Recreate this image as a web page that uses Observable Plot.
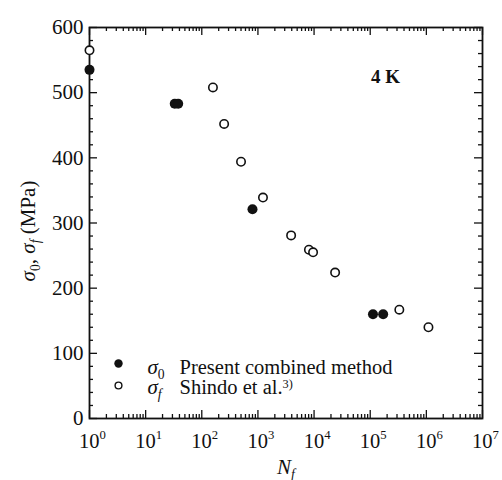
<!DOCTYPE html>
<html><head><meta charset="utf-8">
<script src="https://cdn.jsdelivr.net/npm/d3@7"></script>
<script src="https://cdn.jsdelivr.net/npm/@observablehq/plot@0.6"></script>
<style>
body{margin:0;background:#fff;}
#chart{position:relative;width:502px;height:480px;}
</style>
</head><body><div id="chart"></div>
<script>
// Data
const presentN = [1, 33, 38, 800, 112000, 170000];
const presentS = [535, 483, 483, 321, 160, 160];
const shindoN = [1, 158, 250, 500, 1230, 3900, 8100, 9600, 23700, 330000, 1090000];
const shindoS = [565, 508, 452, 394, 339, 281, 259, 255, 224, 167, 140];

const yTicks = [0, 100, 200, 300, 400, 500, 600];
const xExponents = [0, 1, 2, 3, 4, 5, 6, 7];

const present = presentN.map((n, i) => ({n, s: presentS[i]}));
const shindo = shindoN.map((n, i) => ({n, s: shindoS[i]}));
const xMajor = xExponents.map(e => Math.pow(10, e));
const xMinor = xExponents.slice(0, -1).flatMap(e => d3.range(2, 10).map(m => m * Math.pow(10, e)));
const yMinor = d3.range(0, 601, 20).filter(v => v % 100 !== 0);

const W = 502, H = 480, ML = 89, MR = 20, MT = 27, MB = 62;
const PW = W - ML - MR, PH = H - MT - MB;
const font = "'Liberation Serif', 'Times New Roman', serif";
const tk = {stroke: "#111", strokeWidth: 1.3};

const plot = Plot.plot({
  width: W, height: H,
  marginLeft: ML, marginRight: MR, marginTop: MT, marginBottom: MB,
  style: {fontFamily: font, fontSize: "20px", color: "#111", background: "#fff", overflow: "visible"},
  x: {type: "log", domain: [1, 1e7], axis: null},
  y: {domain: [0, 600], axis: null},
  marks: [
    // inward ticks on all four sides
    Plot.tickX(xMajor, {x: d => d, insetTop: PH - 8, ...tk}),
    Plot.tickX(xMinor, {x: d => d, insetTop: PH - 4, ...tk}),
    Plot.tickX(xMajor, {x: d => d, insetBottom: PH - 8, ...tk}),
    Plot.tickX(xMinor, {x: d => d, insetBottom: PH - 4, ...tk}),
    Plot.tickY(yTicks, {y: d => d, insetRight: PW - 8, ...tk}),
    Plot.tickY(yMinor, {y: d => d, insetRight: PW - 4, ...tk}),
    Plot.tickY(yTicks, {y: d => d, insetLeft: PW - 8, ...tk}),
    Plot.tickY(yMinor, {y: d => d, insetLeft: PW - 4, ...tk}),
    // y tick labels
    Plot.text(yTicks, {y: d => d, frameAnchor: "left", dx: -6, textAnchor: "end", lineAnchor: "middle", fontSize: 21, text: d => String(d)}),
    // x tick labels 10^n
    Plot.text(xExponents, {x: e => Math.pow(10, e), frameAnchor: "bottom", dy: 29, dx: 3, textAnchor: "middle", lineAnchor: "bottom", fontSize: 20.5, text: e => `10^{${e}}`}),
    Plot.frame({stroke: "#111", strokeWidth: 1.8}),
    // data
    Plot.dot(shindo, {x: "n", y: "s", r: 4.2, stroke: "#111", strokeWidth: 1.6, fill: "#fff"}),
    Plot.dot(present, {x: "n", y: "s", r: 5, fill: "#111", stroke: "none"}),
    // annotation
    Plot.text(["4 K"], {frameAnchor: "top-right", dx: -97, dy: 55, textAnchor: "middle", lineAnchor: "bottom", fontSize: 19, fontWeight: 600, text: d => d}),
    // legend
    Plot.dot([0], {frameAnchor: "bottom-left", dx: 29, dy: -55, r: 4.2, fill: "#111"}),
    Plot.dot([0], {frameAnchor: "bottom-left", dx: 29, dy: -33, r: 3.4, fill: "#fff", stroke: "#111", strokeWidth: 1.4}),
    Plot.text(["*σ*_{0}"], {frameAnchor: "bottom-left", dx: 58, dy: -45, textAnchor: "start", lineAnchor: "bottom", fontSize: 21, text: d => d}),
    Plot.text(["*σ*_[f]"], {frameAnchor: "bottom-left", dx: 58, dy: -25, textAnchor: "start", lineAnchor: "bottom", fontSize: 21, text: d => d}),
    Plot.text(["Present combined method"], {frameAnchor: "bottom-left", dx: 90, dy: -45, textAnchor: "start", lineAnchor: "bottom", fontSize: 20.5, text: d => d}),
    Plot.text(["Shindo et al.^[3)]"], {frameAnchor: "bottom-left", dx: 90, dy: -25, textAnchor: "start", lineAnchor: "bottom", fontSize: 20.5, text: d => d}),
    // axis titles
    Plot.text(["*N*_[f]"], {frameAnchor: "bottom", dy: 55, textAnchor: "middle", lineAnchor: "bottom", fontSize: 21, text: d => d}),
    Plot.text(["*σ*_{0}, *σ*_[f] (MPa)"], {frameAnchor: "left", dx: -55, dy: 8, rotate: -90, textAnchor: "middle", lineAnchor: "bottom", fontSize: 21, text: d => d})
  ]
});

// simple markup: *italic*, ^{sup}, ^[low sup], _{sub}, _[italic sub]
function markup(str) {
  const re = /\*([^*]+)\*|\^\{([^}]*)\}|\^\[([^\]]*)\]|_\{([^}]*)\}|_\[([^\]]*)\]|([^*^_]+)/g;
  let out = "", m, shift = 0;
  const esc = s => s.replace(/&/g, "&amp;").replace(/</g, "&lt;");
  const span = (txt, to, attrs) => { const o = `<tspan dy="${to - shift}"${attrs}>${esc(txt)}</tspan>`; shift = to; return o; };
  while ((m = re.exec(str))) {
    if (m[1] !== undefined) out += span(m[1], 0, ` font-style="italic"`);
    else if (m[2] !== undefined) out += span(m[2], -9, ` font-size="0.62em"`);
    else if (m[3] !== undefined) out += span(m[3], -6, ` font-size="0.6em"`);
    else if (m[4] !== undefined) out += span(m[4], 5, ` font-size="0.65em"`);
    else if (m[5] !== undefined) out += span(m[5], 5, ` font-size="0.65em" font-style="italic"`);
    else out += span(m[6], 0, ``);
  }
  return out;
}
d3.select(plot).selectAll("text").each(function() {
  const t = this.textContent;
  if (/\*|\^\{|\^\[|_\{|_\[/.test(t)) this.innerHTML = markup(t);
});

document.getElementById("chart").appendChild(plot);
</script>
</body></html>
